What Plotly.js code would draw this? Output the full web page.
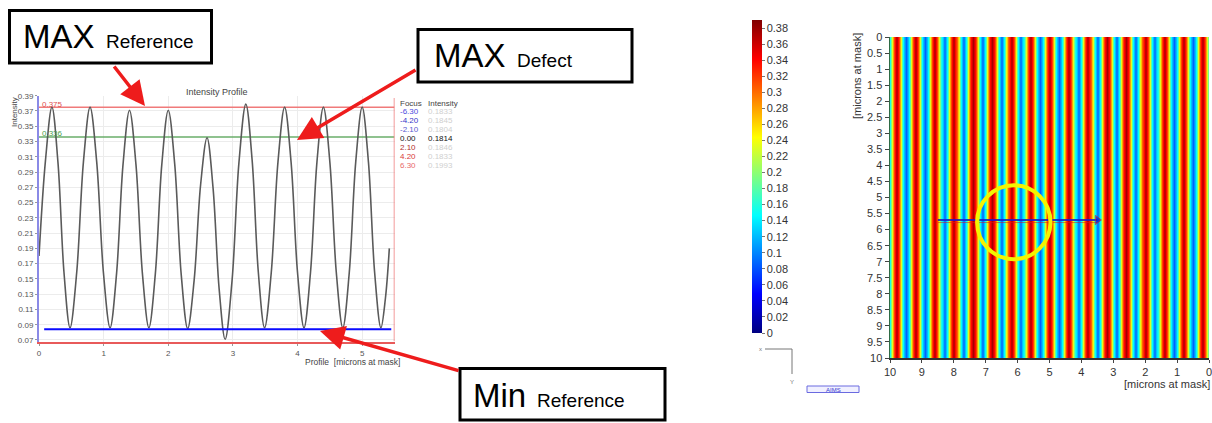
<!DOCTYPE html>
<html>
<head>
<meta charset="utf-8">
<script src="https://cdn.plot.ly/plotly-3.0.1.min.js"></script>
<style>
  html, body { margin: 0; padding: 0; background: #ffffff; }
  #chart { width: 1212px; height: 423px; }
</style>
</head>
<body>
<div id="chart"></div>
<script>
// ---------- DATA ----------
// Intensity profile (left chart), microns at mask vs intensity
const profileX = [0.00,0.10,0.20,0.293,0.387,0.48,0.583,0.687,0.79,0.893,0.997,1.10,1.20,1.30,1.40,1.50,1.60,1.70,1.80,1.90,2.00,2.10,2.20,2.30,2.40,2.50,2.60,2.693,2.787,2.88,2.987,3.093,3.20,3.297,3.393,3.49,3.593,3.697,3.80,3.90,4.00,4.10,4.20,4.30,4.40,4.50,4.60,4.70,4.80,4.90,5.00,5.097,5.193,5.29,5.36,5.42];
const profileY = [0.180,0.305,0.375,0.303,0.158,0.086,0.158,0.303,0.375,0.303,0.158,0.086,0.157,0.300,0.371,0.300,0.157,0.086,0.157,0.300,0.371,0.300,0.156,0.085,0.148,0.273,0.335,0.269,0.137,0.071,0.148,0.302,0.379,0.306,0.159,0.086,0.158,0.303,0.375,0.303,0.158,0.086,0.158,0.303,0.375,0.303,0.158,0.086,0.158,0.303,0.375,0.303,0.158,0.086,0.125,0.190];

// Reference levels
const MAX_REF = 0.375;
const MAX_DEFECT = 0.336;
const MIN_REF = 0.084;
const MIN_LINE_X = [0.08, 5.45];
const PROFILE_X_RANGE = [0, 5.5];
const PROFILE_Y_RANGE = [0.068, 0.39];
const profileXTicks = [0, 1, 2, 3, 4, 5];
const profileYTicks = [0.07,0.09,0.11,0.13,0.15,0.17,0.19,0.21,0.23,0.25,0.27,0.29,0.31,0.33,0.35,0.37,0.39];

// Focus / intensity table
const focusLabels = ['-6.30','-4.20','-2.10','0.00','2.10','4.20','6.30'];
const intensityLabels = ['0.1833','0.1845','0.1804','0.1814','0.1846','0.1833','0.1993'];
const focusColors = ['#4a4ae0','#3535c8','#5a5ad0','#111111','#b03030','#d83a3a','#e86a6a'];
const intensityColors = ['#cfcfcf','#cfcfcf','#cfcfcf','#111111','#cfcfcf','#cfcfcf','#cfcfcf'];

// Aerial image (right chart): column profile sampled every 0.1 micron from x=0 to x=10
const heatColumnProfile = [
  0.158,0.303,0.375,0.303,0.158,0.086,
  0.158,0.303,0.375,0.303,0.158,0.086,
  0.158,0.303,0.375,0.303,0.158,0.086,
  0.158,0.303,0.375,0.303,0.158,0.086,
  0.158,0.303,0.375,0.303,0.158,0.086,
  0.158,0.303,0.375,0.303,0.158,0.086,
  0.158,0.303,0.375,0.303,0.158,0.086,
  0.158,0.303,0.375,0.303,0.158,0.086,
  0.158,0.303,0.375,0.303,0.158,0.086,
  0.158,0.303,0.375,0.303,0.158,0.086,
  0.158,0.303,0.375,0.303,0.158,0.086,
  0.158,0.303,0.375,0.303,0.158,0.086,
  0.158,0.303,0.375,0.303,0.158,0.086,
  0.158,0.303,0.375,0.303,0.158,0.086,
  0.158,0.303,0.375,0.303,0.158,0.086,
  0.158,0.303,0.375,0.303,0.158,0.086,
  0.158,0.303,0.375,0.303,0.158
];
const heatRowsY = [0, 10];
const HEAT_X0 = 0, HEAT_DX = 0.1;
const HEAT_ZMIN = 0, HEAT_ZMAX = 0.39;
const heatXTicks = [0,1,2,3,4,5,6,7,8,9,10];
const heatYTicks = [0,0.5,1,1.5,2,2.5,3,3.5,4,4.5,5,5.5,6,6.5,7,7.5,8,8.5,9,9.5,10];
const colorbarTicks = [0,0.02,0.04,0.06,0.08,0.1,0.12,0.14,0.16,0.18,0.2,0.22,0.24,0.26,0.28,0.3,0.32,0.34,0.36,0.38];

// Defect marker
const DEFECT_LINE_X = [8.5, 3.5];
const DEFECT_LINE_Y = 5.7;
const DEFECT_CX = 6.12, DEFECT_CY = 5.77, DEFECT_R = 1.15;

// ---------- LAYOUT HELPERS ----------
const W = 1212, H = 423;
const fx = p => p / W;
const fy = p => 1 - p / H;
const FONT = 'Liberation Sans, Arial, sans-serif';

const jet = [
  [0, 'rgb(0,0,128)'], [0.125, 'rgb(0,0,255)'], [0.375, 'rgb(0,255,255)'],
  [0.625, 'rgb(255,255,0)'], [0.875, 'rgb(255,0,0)'], [1, 'rgb(128,0,0)']
];

// ---------- TRACES ----------
const traces = [
  {
    type: 'scatter', mode: 'lines', x: PROFILE_X_RANGE, y: [MAX_REF, MAX_REF],
    line: { color: '#f07a7a', width: 1.5 }, xaxis: 'x', yaxis: 'y', hoverinfo: 'skip'
  },
  {
    type: 'scatter', mode: 'lines', x: PROFILE_X_RANGE, y: [MAX_DEFECT, MAX_DEFECT],
    line: { color: '#6aae6a', width: 1.5 }, xaxis: 'x', yaxis: 'y', hoverinfo: 'skip'
  },
  {
    type: 'scatter', mode: 'lines', x: profileX, y: profileY,
    line: { color: '#5a5a5a', width: 1.6, shape: 'spline', smoothing: 1 },
    xaxis: 'x', yaxis: 'y', hoverinfo: 'skip'
  },
  {
    type: 'scatter', mode: 'lines', x: MIN_LINE_X, y: [MIN_REF, MIN_REF],
    line: { color: '#0a0aff', width: 2 }, xaxis: 'x', yaxis: 'y', hoverinfo: 'skip'
  },
  {
    type: 'scatter', mode: 'lines', x: [PROFILE_X_RANGE[1], PROFILE_X_RANGE[1]], y: [PROFILE_Y_RANGE[0], 0.387],
    line: { color: '#f07a7a', width: 1.5 }, xaxis: 'x', yaxis: 'y', hoverinfo: 'skip', cliponaxis: false
  },
  {
    type: 'heatmap', x0: HEAT_X0, dx: HEAT_DX, y: heatRowsY,
    z: [heatColumnProfile, heatColumnProfile],
    zmin: HEAT_ZMIN, zmax: HEAT_ZMAX, colorscale: jet, zsmooth: 'best',
    xaxis: 'x2', yaxis: 'y2', hoverinfo: 'skip',
    colorbar: {
      x: fx(752), xanchor: 'left', xref: 'paper',
      y: fy(20), yanchor: 'top', yref: 'paper',
      lenmode: 'pixels', len: 313, thickness: 10,
      outlinewidth: 0, xpad: 0, ypad: 0,
      tickmode: 'array', tickvals: colorbarTicks,
      ticks: 'outside', ticklen: 3, tickcolor: '#777',
      tickfont: { family: FONT, size: 11, color: '#333' }
    }
  },
  {
    type: 'scatter', mode: 'lines', x: DEFECT_LINE_X, y: [DEFECT_LINE_Y + 0.08, DEFECT_LINE_Y + 0.08],
    line: { color: 'rgba(210,30,30,0.55)', width: 1 }, xaxis: 'x2', yaxis: 'y2', hoverinfo: 'skip'
  },
  {
    type: 'scatter', mode: 'lines+markers', x: DEFECT_LINE_X, y: [DEFECT_LINE_Y, DEFECT_LINE_Y],
    line: { color: 'rgba(25,25,200,0.85)', width: 2 },
    marker: { symbol: 'triangle-right', size: [0, 8], color: '#1414d0', line: { color: '#d02020', width: 1 } },
    xaxis: 'x2', yaxis: 'y2', hoverinfo: 'skip'
  }
];

// ---------- ANNOTATIONS ----------
const ann = [];
function txt(x, y, text, size, color, opts) {
  ann.push(Object.assign({
    xref: 'paper', yref: 'paper', x: fx(x), y: fy(y), text: text, showarrow: false,
    font: { family: FONT, size: size, color: color }, xanchor: 'left', yanchor: 'middle'
  }, opts || {}));
}
// Left chart texts
txt(217, 92, 'Intensity Profile', 9, '#444', { xanchor: 'center' });
txt(15, 112, 'Intensity', 8, '#444', { xanchor: 'center', textangle: -90 });
txt(352, 362, 'Profile  [microns at mask]', 8.5, '#444', { xanchor: 'center' });
txt(40, 104, String(MAX_REF), 8, '#e05050');
txt(40, 133, String(MAX_DEFECT), 8, '#4aa04a');
txt(398, 103, 'Focus', 8, '#444');
txt(426, 103, 'Intensity', 8, '#444');
focusLabels.forEach((f, i) => {
  const yy = 112 + i * 8.9;
  txt(398, yy, f, 8, focusColors[i]);
  txt(426, yy, intensityLabels[i], 8, intensityColors[i]);
});

// Boxes text
txt(59, 36, 'MAX', 33, '#000', { xanchor: 'center' });
txt(150, 41, 'Reference', 19, '#000', { xanchor: 'center' });
txt(470, 56, 'MAX', 33, '#000', { xanchor: 'center' });
txt(545, 61, 'Defect', 19, '#000', { xanchor: 'center' });
txt(499, 395, 'Min', 33, '#000', { xanchor: 'center' });
txt(581, 400, 'Reference', 19, '#000', { xanchor: 'center' });

// Arrows
function arrow(tx, ty, ax, ay) {
  ann.push({
    xref: 'paper', yref: 'paper', x: fx(tx), y: fy(ty), ax: ax, ay: ay, text: '',
    showarrow: true, arrowhead: 2, arrowsize: 1.4, arrowwidth: 3.5, arrowcolor: '#ee1c1c', standoff: 0
  });
}
arrow(145, 106, -32, -41);
arrow(297, 140, 120, -71);
arrow(320, 331, 140, 40);

// Right chart texts
txt(857, 76, '[microns at mask]', 11, '#333', { xanchor: 'center', textangle: -90 });
txt(1167, 384, '[microns at mask]', 11, '#333', { xanchor: 'center' });
txt(760, 349, 'x', 6, '#777', { xanchor: 'center' });
txt(792, 382, 'Y', 6, '#777', { xanchor: 'center' });
txt(833, 389.5, 'AIMS', 6, '#3a3ad0', { xanchor: 'center' });

// ---------- SHAPES ----------
const shapes = [
  { type: 'rect', xref: 'paper', yref: 'paper', x0: fx(9.5), x1: fx(211.5), y0: fy(10.5), y1: fy(63),
    line: { color: '#000', width: 3 }, fillcolor: 'rgba(255,255,255,1)', layer: 'above' },
  { type: 'rect', xref: 'paper', yref: 'paper', x0: fx(418), x1: fx(632), y0: fy(29.5), y1: fy(82),
    line: { color: '#000', width: 3 }, fillcolor: 'rgba(255,255,255,1)', layer: 'above' },
  { type: 'rect', xref: 'paper', yref: 'paper', x0: fx(460), x1: fx(665), y0: fy(368.5), y1: fy(420),
    line: { color: '#000', width: 3 }, fillcolor: 'rgba(255,255,255,1)', layer: 'above' },
  { type: 'circle', xref: 'x2', yref: 'y2',
    x0: DEFECT_CX - DEFECT_R, x1: DEFECT_CX + DEFECT_R, y0: DEFECT_CY - DEFECT_R, y1: DEFECT_CY + DEFECT_R,
    line: { color: '#f4f400', width: 4 }, layer: 'above' },
  { type: 'line', xref: 'paper', yref: 'paper', x0: fx(765), x1: fx(792), y0: fy(349), y1: fy(349),
    line: { color: '#777', width: 1 } },
  { type: 'line', xref: 'paper', yref: 'paper', x0: fx(792), x1: fx(792), y0: fy(349), y1: fy(374),
    line: { color: '#777', width: 1 } },
  { type: 'rect', xref: 'paper', yref: 'paper', x0: fx(807), x1: fx(859), y0: fy(386), y1: fy(392.5),
    line: { color: '#6a6ae0', width: 1 }, fillcolor: 'rgba(240,240,255,1)' }
];

// ---------- LAYOUT ----------
const layout = {
  width: W, height: H,
  margin: { l: 0, r: 0, t: 0, b: 0, pad: 0 },
  paper_bgcolor: '#ffffff', plot_bgcolor: '#ffffff',
  showlegend: false, hovermode: false,
  font: { family: FONT, color: '#444' },
  xaxis: {
    domain: [fx(39), fx(394.5)], range: PROFILE_X_RANGE, anchor: 'y',
    tickmode: 'array', tickvals: profileXTicks,
    ticks: 'outside', ticklen: 2, tickcolor: '#999',
    tickfont: { family: FONT, size: 8, color: '#555' },
    showgrid: true, gridcolor: '#ececec', gridwidth: 1, zeroline: false,
    showline: true, linecolor: '#e85a5a', linewidth: 2.5
  },
  yaxis: {
    domain: [fy(341.5), fy(95.7)], range: PROFILE_Y_RANGE, anchor: 'x',
    tickmode: 'array', tickvals: profileYTicks, tickformat: '.2f',
    ticks: 'outside', ticklen: 2, tickcolor: '#999',
    tickfont: { family: FONT, size: 8, color: '#555' },
    showgrid: true, gridcolor: '#ececec', gridwidth: 1, zeroline: false,
    showline: true, linecolor: '#8a8ae6', linewidth: 2
  },
  xaxis2: {
    domain: [fx(890), fx(1209)], range: [10, 0], anchor: 'y2',
    tickmode: 'array', tickvals: heatXTicks,
    ticks: 'outside', ticklen: 3, tickcolor: '#444',
    ticklabeloverflow: 'allow',
    tickfont: { family: FONT, size: 11, color: '#333' },
    showgrid: false, zeroline: false,
    showline: true, linecolor: '#333', linewidth: 1.5
  },
  yaxis2: {
    domain: [fy(358), fy(37)], range: [10, 0], anchor: 'x2',
    tickmode: 'array', tickvals: heatYTicks,
    ticks: 'outside', ticklen: 4, tickcolor: '#444',
    tickfont: { family: FONT, size: 11, color: '#333' },
    showgrid: false, zeroline: false,
    showline: true, linecolor: '#2e6b45', linewidth: 1.5
  },
  shapes: shapes,
  annotations: ann
};

Plotly.newPlot('chart', traces, layout, { staticPlot: true, displayModeBar: false });
</script>
</body>
</html>
